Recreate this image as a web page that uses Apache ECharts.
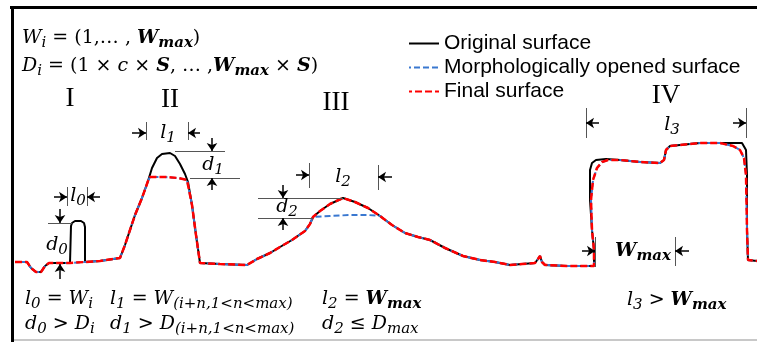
<!DOCTYPE html>
<html lang="en">
<head>
<meta charset="UTF-8">
<title>Morphological filtering of a surface profile</title>
<script src="https://cdn.jsdelivr.net/npm/echarts@6/dist/echarts.min.js"></script>
<style>
    html, body { margin: 0; padding: 0; background: #fff; }
    #chart { width: 757px; height: 342px; }
</style>
</head>
<body>
<div id="chart"></div>
<script>
// profile pieces, [x, height] in picture units (height axis points down)
var segStart = [[15,262],[27,262],[31,268],[36,272],[41,272],[45,266],[49,263],[60,263],[70,263]];
var spikeI = [[71,262],[71,226],[72,223],[75,221],[81,221],[84,223],[85,227],[85,262]];
var segRise = [[100,261],[120,258],[125,245],[135,215],[142,198],[148,181]];
var peakII = [[152,168],[157,158],[162,154],[170,153],[175,156],[180,164],[185,174],[188,182]];
var peakIICut = [[150,177],[165,177],[178,178],[187,180]];
var segValley = [[192,205],[196,235],[200,263],[220,264],[247,265],[257,259],[270,253],[280,247],[292,240],[305,231],[310,224],[313,217]];
var peakIII = [[320,211],[330,204],[343,198],[355,202],[368,208]];
var peakIIIOpen = [[330,216],[350,215],[368,215]];
var segSlope = [[380,216],[392,225],[405,233],[418,237],[430,240],[445,248],[463,256],[480,260],[495,262],[510,265],[522,264],[535,263],[538,259],[540,256],[542,262],[545,265],[567,266],[594,266],[594,250],[592,230]];
var plateauIV = [[590,200],[590,170],[592,163],[596,160],[606,159],[620,160],[640,162],[660,163],[664,160],[666,150],[670,146],[680,145],[700,143],[720,143],[742,143],[746,150],[747,175]];
var plateauIVSmooth = [[591,200],[593,180],[597,168],[602,162],[608,160],[620,160],[640,162],[660,163],[664,160],[666,150],[670,146],[680,145],[700,143],[720,143],[733,146],[740,150],[744,158],[746,175]];
var segEnd = [[747,230],[748,260],[750,261],[757,261]];

var original = [].concat(segStart, spikeI, segRise, peakII, segValley, peakIII, segSlope, plateauIV, segEnd);
var finalSurface = [].concat(segStart, segRise, peakIICut, segValley, peakIII, segSlope, plateauIVSmooth, segEnd);
var openedSurface = [].concat(segStart, segRise, peakIICut, segValley, peakIIIOpen, segSlope, plateauIVSmooth, segEnd);

var seriesNames = ['Original surface', 'Morphologically opened surface', 'Final surface'];

// dimension marks
var guides = [
    [[67,187],[67,206]], [[87,187],[87,206]], [[48,223],[72,223]],
    [[146,122],[146,140]], [[188,122],[188,140]], [[175,151],[225,151]], [[190,178],[240,178]],
    [[309,163],[309,188]], [[378,165],[378,190]], [[258,198],[343,198]], [[258,218],[313,218]],
    [[586,108],[586,138]], [[746,108],[746,138]], [[595,237],[595,267]], [[675,237],[675,266]]
];
var arrows = [
    [[54,197],[67,197]], [[100,197],[87,197]], [[60,209],[60,223]], [[60,279],[60,264]],
    [[132,133],[146,133]], [[200,133],[188,133]], [[212,138],[212,151]], [[212,190],[212,178]],
    [[296,175],[309,175]], [[392,177],[378,177]], [[283,185],[283,198]], [[283,230],[283,218]],
    [[599,123],[586,123]], [[733,123],[746,123]], [[582,251],[595,251]], [[689,251],[675,251]]
];

var chart = echarts.init(document.getElementById('chart'));

var F = 'DejaVu Serif';
var rich = {
    n: {fontFamily: F, fontSize: 19, lineHeight: 26, color: '#000'},
    i: {fontFamily: F, fontSize: 19, fontStyle: 'italic', lineHeight: 26, color: '#000'},
    b: {fontFamily: F, fontSize: 19, fontStyle: 'italic', fontWeight: 'bold', lineHeight: 26, color: '#000'},
    s: {fontFamily: F, fontSize: 15, fontStyle: 'italic', lineHeight: 24, verticalAlign: 'bottom', color: '#000'},
    bs: {fontFamily: F, fontSize: 15, fontStyle: 'italic', fontWeight: 'bold', lineHeight: 24, verticalAlign: 'bottom', color: '#000'}
};

function txt(x, y, str, align) {
    return {
        type: 'text', x: x, y: y, z: 10,
        style: {text: str, rich: rich, align: align || 'left', verticalAlign: 'middle'}
    };
}
function roman(x, y, str) {
    return {
        type: 'text', x: x, y: y, z: 10,
        style: {text: str, font: '27px "Liberation Serif"', fill: '#000', align: 'center', verticalAlign: 'middle'}
    };
}

var graphics = [
    // frame
    {type: 'rect', shape: {x: 10, y: 6, width: 747, height: 3}, style: {fill: '#000'}},
    {type: 'rect', shape: {x: 11, y: 6, width: 3, height: 336}, style: {fill: '#000'}},
    {type: 'rect', shape: {x: 14, y: 339, width: 743, height: 2}, style: {fill: '#c8c8c8'}},

    txt(22, 38, '{i|W}{s|i}{n| = (1,… , }{b|W}{bs|max}{n|)}'),
    txt(22, 66, '{i|D}{s|i}{n| = (1 × }{i|c}{n| × }{b|S}{n|, … ,}{b|W}{bs|max}{n| × }{b|S}{n|)}'),

    roman(70, 99, 'I'), roman(170, 100, 'II'), roman(336, 103, 'III'), roman(666, 96, 'IV'),

    txt(57, 245, '{i|d}{s|0}', 'center'),
    txt(78, 196, '{i|l}{s|0}', 'center'),
    txt(168, 133, '{i|l}{s|1}', 'center'),
    txt(213, 165, '{i|d}{s|1}', 'center'),
    txt(343, 177, '{i|l}{s|2}', 'center'),
    txt(287, 207, '{i|d}{s|2}', 'center'),
    txt(672, 125, '{i|l}{s|3}', 'center'),
    txt(643, 251, '{b|W}{bs|max}', 'center'),

    txt(25, 299, '{i|l}{s|0}{n| = }{i|W}{s|i}'),
    txt(25, 324, '{i|d}{s|0}{n| > }{i|D}{s|i}'),
    txt(110, 299, '{i|l}{s|1}{n| = }{i|W}{s|(i+n,1<n<max)}'),
    txt(110, 324, '{i|d}{s|1}{n| > }{i|D}{s|(i+n,1<n<max)}'),
    txt(322, 299, '{i|l}{s|2}{n| = }{b|W}{bs|max}'),
    txt(322, 324, '{i|d}{s|2}{n| ≤ }{i|D}{s|max}'),
    txt(627, 300, '{i|l}{s|3}{n| > }{b|W}{bs|max}')
];

chart.setOption({
    animation: false,
    grid: {left: 0, right: 0, top: 0, bottom: 0},
    xAxis: {type: 'value', min: 0, max: 757, show: false},
    yAxis: {type: 'value', min: 0, max: 342, inverse: true, show: false},
    legend: {
        orient: 'vertical',
        left: 403,
        top: 28,
        itemWidth: 30,
        itemHeight: 10,
        itemGap: 3,
        data: seriesNames,
        itemStyle: {opacity: 0},
        textStyle: {fontFamily: 'Liberation Sans', fontSize: 21, color: '#000'}
    },
    graphic: graphics,
    series: [
        {
            name: seriesNames[0], type: 'line', data: original, symbol: 'none', z: 3,
            lineStyle: {color: '#000', width: 2}, itemStyle: {color: '#000'}
        },
        {
            name: seriesNames[1], type: 'line', data: openedSurface, symbol: 'none', z: 4,
            lineStyle: {color: '#3a78d0', width: 2, type: [6, 3], dashOffset: 4}, itemStyle: {color: '#3a78d0'}
        },
        {
            name: seriesNames[2], type: 'line', data: finalSurface, symbol: 'none', z: 5,
            lineStyle: {color: '#ff0000', width: 2.5, type: [7, 3]}, itemStyle: {color: '#ff0000'}
        },
        {
            name: 'guides', type: 'lines', coordinateSystem: 'cartesian2d', silent: true, z: 6,
            data: guides.map(function (g) { return {coords: g}; }),
            lineStyle: {color: '#555', width: 1, opacity: 1}
        },
        {
            name: 'arrows', type: 'lines', coordinateSystem: 'cartesian2d', silent: true, z: 7,
            symbol: ['none', 'arrow'], symbolSize: 8,
            data: arrows.map(function (a) { return {coords: a}; }),
            lineStyle: {color: '#000', width: 1.5, opacity: 1}
        }
    ]
});
</script>
</body>
</html>
